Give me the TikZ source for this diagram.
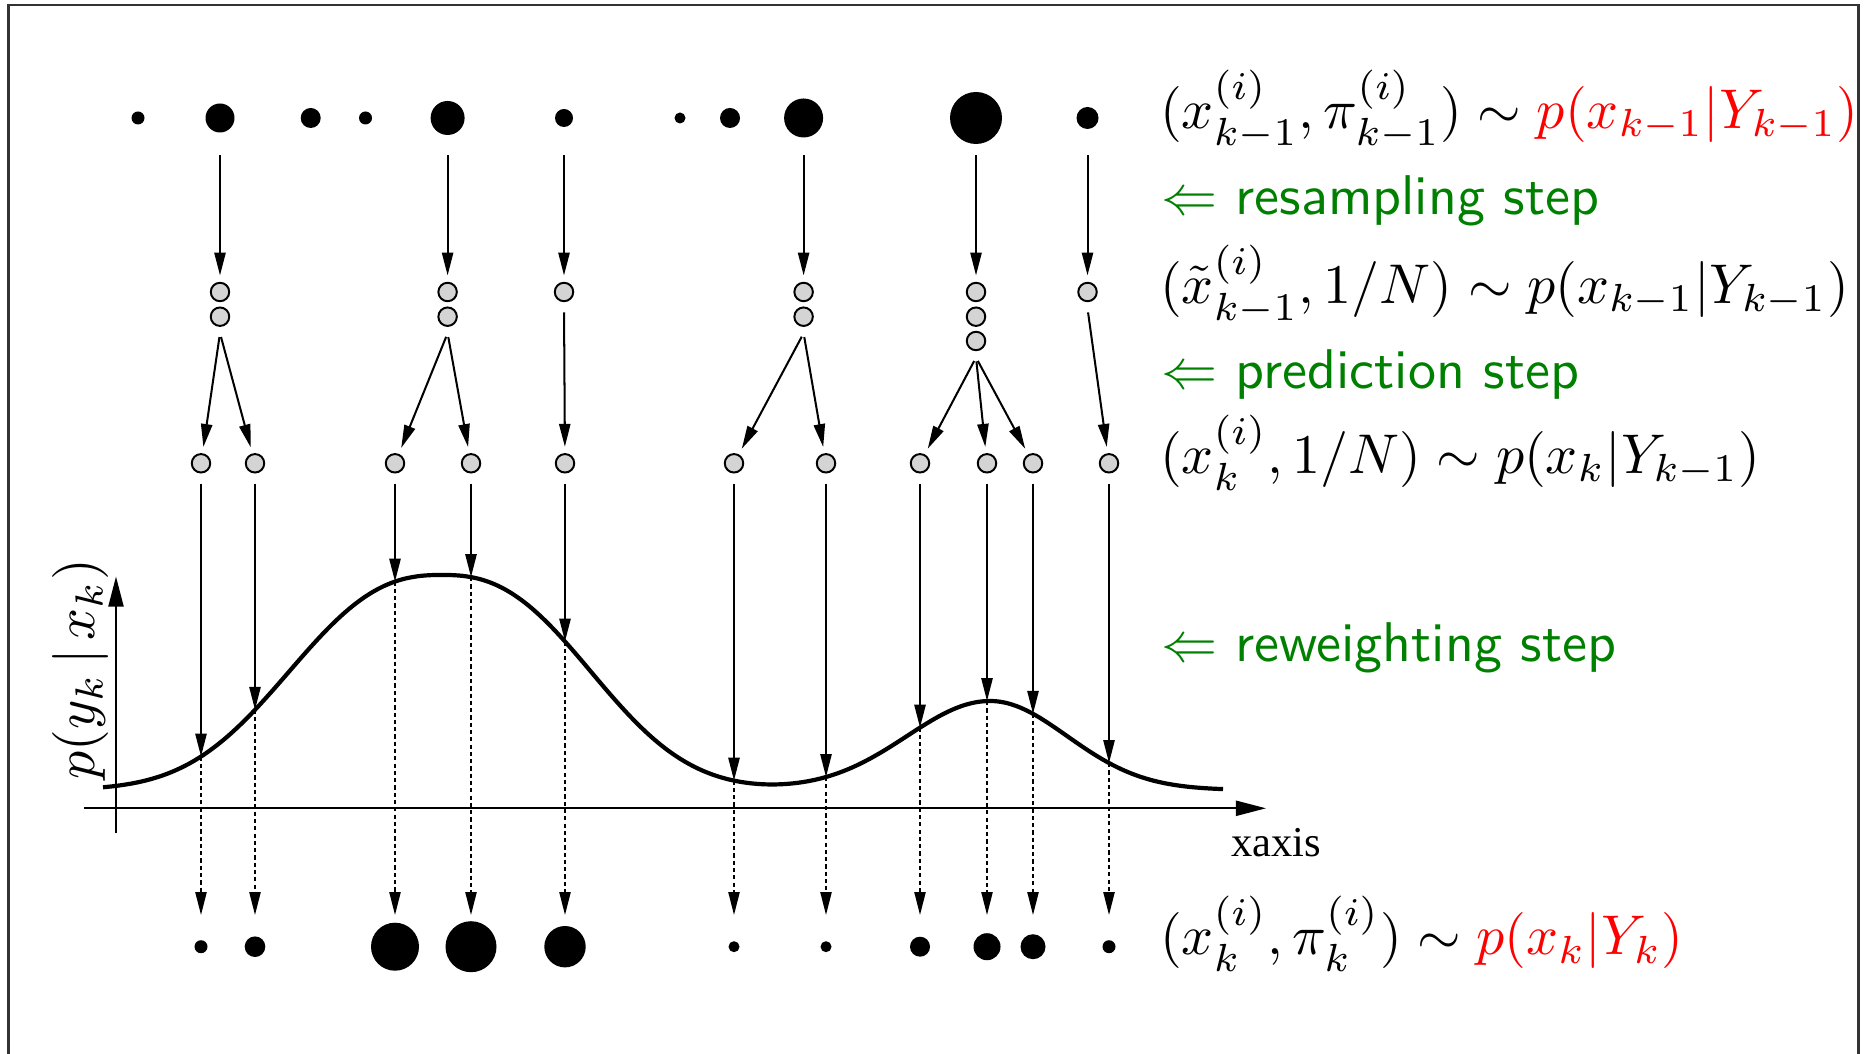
\documentclass[tikz,border=0pt]{standalone}
\usepackage{fontspec}
\newfontfamily\timesf{Liberation Serif}
\usetikzlibrary{arrows.meta,calc}
\definecolor{stepgreen}{RGB}{0,128,0}
\begin{document}
\begin{tikzpicture}[x=0.17857pt,y=-0.17857pt,
  declare function={
    wa(\x)=ifthenelse(\x<442,188,183);
    wb(\x)=ifthenelse(\x<990,83,77);
    lik(\x)=790-215*exp(-pow(abs(\x-442)/wa(\x),2.5))-89*exp(-0.5*pow(abs(\x-990)/wb(\x),2));
  },
  pdot/.style={circle,fill=black,inner sep=0pt,minimum size={#1*0.35714pt}},
  gcirc/.style={circle,draw=black,fill=black!17,line width=0.35pt,inner sep=0pt,minimum size=3.3pt,outer sep=1.3pt},
  arr/.style={line width=0.36pt,-{Triangle[length=4.1pt,width=2pt]}},
  darr/.style={line width=0.3pt,dash pattern=on 0.75pt off 0.55pt,-{Triangle[length=4.1pt,width=2pt]}},
  axarr/.style={line width=0.36pt,-{Triangle[length=5.4pt,width=2.7pt]}},
  lbl/.style={anchor=base west,inner sep=0pt},
  grn/.style={lbl,text=stepgreen,font=\sffamily},
]
\useasboundingbox (0,0) rectangle (1866,1054);
% frame
\draw[black!80,line width=0.45pt] (8.3,1054) -- (8.3,5) -- (1858.3,5) -- (1858.3,1054);

% top row: weighted particles
\node[pdot=6.5]  (t1)  at (138,118) {};
\node[pdot=14.5] (t2)  at (220,118) {};
\node[pdot=10]   (t3)  at (310.7,118) {};
\node[pdot=6.5]  (t4)  at (365.5,118) {};
\node[pdot=17]   (t5)  at (447.6,118) {};
\node[pdot=9]    (t6)  at (564,118) {};
\node[pdot=5.5]  (t7)  at (680,118) {};
\node[pdot=10]   (t8)  at (730,118) {};
\node[pdot=19.5] (t9)  at (803.6,118) {};
\node[pdot=26]   (t10) at (976,118) {};
\node[pdot=11]   (t11) at (1087.5,118) {};

% resampled particles
\node[gcirc] (g1a) at (220,292) {};
\node[gcirc] (g1b) at (220,316.7) {};
\node[gcirc] (g2a) at (447.6,292) {};
\node[gcirc] (g2b) at (447.6,316.7) {};
\node[gcirc] (g3a) at (564,292) {};
\node[gcirc] (g4a) at (803.6,292) {};
\node[gcirc] (g4b) at (803.6,316.7) {};
\node[gcirc] (g5a) at (976,292) {};
\node[gcirc] (g5b) at (976,316.7) {};
\node[gcirc] (g5c) at (976,341) {};
\node[gcirc] (g6a) at (1087.5,292) {};

% predicted particles and their points on the likelihood curve
\foreach \i/\x in {1/201,2/255,3/395,4/471,5/565,6/734,7/826,8/920,9/987,10/1033,11/1109}{
  \node[gcirc] (h\i) at (\x,463.3) {};
  \coordinate (c\i) at (\x,{lik(\x)});
}

% bottom row: reweighted particles
\foreach \i/\x/\r in {1/201/6.5,2/255/10.3,3/395/24,4/471/25.5,5/565/20.7,6/734/5.5,7/826/5.5,8/920/10,9/987/13.5,10/1033/12.5,11/1109/6.5}
  \node[pdot=\r] (b\i) at (\x,946.7) {};

% axes
\coordinate (xa0) at (84,808.3);
\coordinate (xa1) at (1266,808.3);
\coordinate (ya0) at (116,833.3);
\coordinate (ya1) at (116,576.5);
\draw[axarr] (xa0) -- (xa1);
\draw[axarr] (ya0) -- (ya1);

% likelihood curve
\draw[line width=0.75pt] plot[domain=103:1223,samples=160,smooth] (\x,{lik(\x)});

% connectors
\foreach \t/\g in {t2/g1a,t5/g2a,t6/g3a,t9/g4a,t10/g5a,t11/g6a}
  \draw[arr] ($(\t)+(0,37)$) -- (\g);
\foreach \g/\h in {g1b/h1,g1b/h2,g2b/h3,g2b/h4,g3a/h5,g4b/h6,g4b/h7,g5c/h8,g5c/h9,g5c/h10,g6a/h11}
  \draw[arr,shorten <=0.7pt] (\g.south) -- (\h);
\foreach \i in {1,...,11}
  \draw[arr,shorten <=0.7pt] (h\i.south) -- (c\i);
\foreach \i in {1,...,11}
  \draw[darr] (c\i) -- ($(b\i)+(0,-31.7)$);

% labels
\node[rotate=90,inner sep=0pt] (ylab) at (80.3,669) {$p(y_k\,|\,x_k)$};
\node[lbl,font=\timesf\fontsize{7.6}{9}\selectfont] (xlab) at (1230,856.7) {xaxis};

\node[lbl] (l1) at (1159,128.2) {$(x^{(i)}_{k-1},\pi^{(i)}_{k-1})\sim\textcolor{red}{p(x_{k-1}|Y_{k-1})}$};
\node[grn] (l2) at (1160,215) {$\Leftarrow$ resampling step};
\node[lbl] (l3) at (1159,303.2) {$(\tilde{x}^{(i)}_{k-1},1/N)\sim p(x_{k-1}|Y_{k-1})$};
\node[grn] (l4) at (1160,389) {$\Leftarrow$ prediction step};
\node[lbl] (l5) at (1159,473.2) {$(x^{(i)}_{k},1/N)\sim p(x_{k}|Y_{k-1})$};
\node[grn] (l6) at (1160,661) {$\Leftarrow$ reweighting step};
\node[lbl] (l7) at (1159,954.8) {$(x^{(i)}_{k},\pi^{(i)}_{k})\sim\textcolor{red}{p(x_{k}|Y_{k})}$};
\end{tikzpicture}
\end{document}
